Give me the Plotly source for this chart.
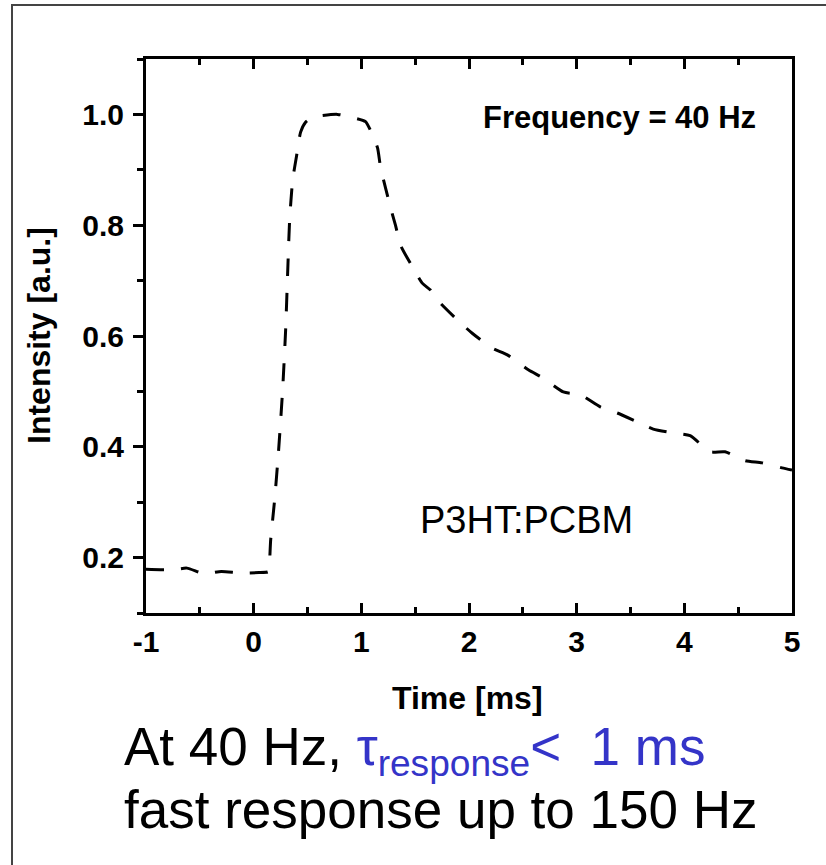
import plotly.graph_objects as go

# ---- data ----
time_ms = [-1.0, -0.75, -0.62, -0.46, -0.30, -0.12, 0.05, 0.13,
           0.139, 0.158, 0.195, 0.232, 0.269, 0.297, 0.315, 0.334, 0.362, 0.399,
           0.436, 0.482, 0.547, 0.64, 0.779, 0.946, 1.039, 1.085, 1.15, 1.178,
           1.224, 1.271, 1.317, 1.364, 1.456, 1.568, 1.642, 1.707, 1.892, 2.03,
           2.217, 2.356, 2.551, 2.69, 2.876, 3.033, 3.219, 3.377, 3.562, 3.711,
           3.896, 4.054, 4.239, 4.378, 4.564, 4.722, 4.907, 5.0]
intensity = [0.179, 0.178, 0.181, 0.171, 0.175, 0.172, 0.173, 0.174,
             0.175, 0.232, 0.305, 0.395, 0.503, 0.611, 0.71, 0.809, 0.881, 0.926,
             0.968, 0.986, 0.995, 0.998, 1.0, 0.993, 0.987, 0.971, 0.94, 0.905,
             0.868, 0.832, 0.80, 0.764, 0.731, 0.695, 0.683, 0.665, 0.629, 0.605,
             0.578, 0.566, 0.539, 0.524, 0.499, 0.494, 0.472, 0.461, 0.445, 0.432,
             0.425, 0.42, 0.391, 0.391, 0.375, 0.371, 0.362, 0.358]

x_tick_vals = [-1, 0, 1, 2, 3, 4, 5]
x_tick_text = ["-1", "0", "1", "2", "3", "4", "5"]
y_tick_vals = [0.2, 0.4, 0.6, 0.8, 1.0]
y_tick_text = ["0.2", "0.4", "0.6", "0.8", "1.0"]

FONT = "Liberation Sans, Arial, sans-serif"
BLUE = "#3434c8"

W, H = 826, 865
L, R, T, B = 146, 34, 59, 252
PW, PH = W - L - R, H - T - B


def px(xp):
    return (xp - L) / PW


def py(yp):
    return (H - B - yp) / PH


fig = go.Figure()
fig.add_trace(go.Scatter(
    x=time_ms, y=intensity, mode="lines",
    line=dict(color="black", width=3, dash="18px,17px", shape="spline", smoothing=0.6),
    showlegend=False, hoverinfo="skip",
))

fig.update_layout(
    width=W, height=H,
    margin=dict(l=L, r=R, t=T, b=B, pad=0),
    paper_bgcolor="white", plot_bgcolor="white",
    font=dict(family=FONT, color="black"),
    xaxis=dict(
        range=[-1, 5], tickvals=x_tick_vals, ticktext=x_tick_text,
        ticks="inside", ticklen=10, tickwidth=2.5, tickcolor="black",
        minor=dict(dtick=0.5, tick0=0, ticks="inside", ticklen=6, tickwidth=2.5, tickcolor="black"),
        showline=True, linewidth=3, linecolor="black", mirror="ticks",
        showgrid=False, zeroline=False,
        tickfont=dict(family=FONT, size=30, weight="bold", color="black"),
        ticklabelstandoff=0,
    ),
    yaxis=dict(
        range=[0.1, 1.1], tickvals=y_tick_vals, ticktext=y_tick_text,
        ticks="outside", ticklen=10, tickwidth=2.5, tickcolor="black",
        minor=dict(dtick=0.1, tick0=0, ticks="outside", ticklen=6, tickwidth=2.5, tickcolor="black"),
        showline=True, linewidth=3, linecolor="black", mirror=True,
        showgrid=False, zeroline=False,
        tickfont=dict(family=FONT, size=30, weight="bold", color="black"),
        ticklabelstandoff=3,
    ),
)

annotations = [
    dict(text="<b>Frequency = 40 Hz</b>", x=3.4, y=0.995, xref="x", yref="y",
         showarrow=False, font=dict(family=FONT, size=31, color="black"),
         xanchor="center", yanchor="middle"),
    dict(text="P3HT:PCBM", x=2.53, y=0.267, xref="x", yref="y",
         showarrow=False, font=dict(family=FONT, size=38, color="black"),
         xanchor="center", yanchor="middle"),
    dict(text="<b>Time [ms]</b>", x=px(467), y=py(698), xref="paper", yref="paper",
         showarrow=False, font=dict(family=FONT, size=32, color="black"),
         xanchor="center", yanchor="middle"),
    dict(text="<b>Intensity [a.u.]</b>", x=px(39), y=0.5, xref="paper", yref="paper",
         showarrow=False, font=dict(family=FONT, size=32, color="black"),
         textangle=-90, xanchor="center", yanchor="middle"),
    dict(text=("At 40 Hz, <span style='color:" + BLUE + "'>τ<sub>response</sub>"
               "&lt;&nbsp;&nbsp;1 ms</span>"),
         x=px(122), y=py(715), xref="paper", yref="paper",
         showarrow=False, font=dict(family=FONT, size=53, color="black"),
         xanchor="left", yanchor="top", align="left"),
    dict(text="fast response up to 150 Hz",
         x=px(122), y=py(778), xref="paper", yref="paper",
         showarrow=False, font=dict(family=FONT, size=53, color="black"),
         xanchor="left", yanchor="top", align="left"),
]
fig.update_layout(annotations=annotations)

# outer frame (only left and top edges fall inside the picture)
fig.add_shape(type="rect", xref="paper", yref="paper",
              x0=px(12), y0=py(900), x1=px(900), y1=py(5),
              line=dict(color="#444444", width=2), fillcolor="rgba(0,0,0,0)", layer="below")

fig.write_html("out.html")
